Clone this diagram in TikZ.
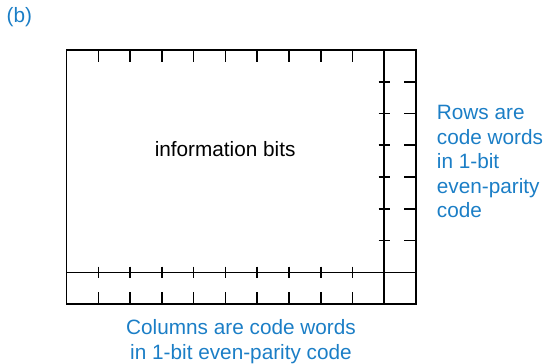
\documentclass[tikz,border=0pt]{standalone}
\usepackage{fontspec}
\setmainfont{Liberation Sans}
\usetikzlibrary{positioning}
\definecolor{noteblue}{RGB}{27,126,198}

\begin{document}
\begin{tikzpicture}[
  x=0.5cm, y=0.5cm, line width=0.7pt,
  font=\fontsize{9.3}{11}\selectfont
]
\useasboundingbox (-2.1,1.575) rectangle (15.0,-9.86);

\draw (0,0) rectangle (11,-8);
\draw (10,0) -- (10,-8);
\draw (0,-7) -- (11,-7);
\foreach \x in {1,...,9} {
  \draw (\x,0) -- (\x,-0.38);
  \draw (\x,-6.82) -- (\x,-7.18);
  \draw (\x,-8) -- (\x,-7.62);
}
\foreach \y in {1,...,6} {
  \draw (9.82,-\y) -- (10.18,-\y);
  \draw (11,-\y) -- (10.62,-\y);
}

\node[text=noteblue] (label) at (-1.49,1.02) {(b)};
\node (info) at (4.99,-3.13) {information bits};
\node[text=noteblue, align=left, anchor=west] (rowtext) at (11.4,-3.52)
  {Rows are\\code words\\in 1-bit\\even-parity\\code};
\node[text=noteblue, align=center] (coltext) at (5.49,-9.19)
  {Columns are code words\\in 1-bit even-parity code};
\end{tikzpicture}
\end{document}
